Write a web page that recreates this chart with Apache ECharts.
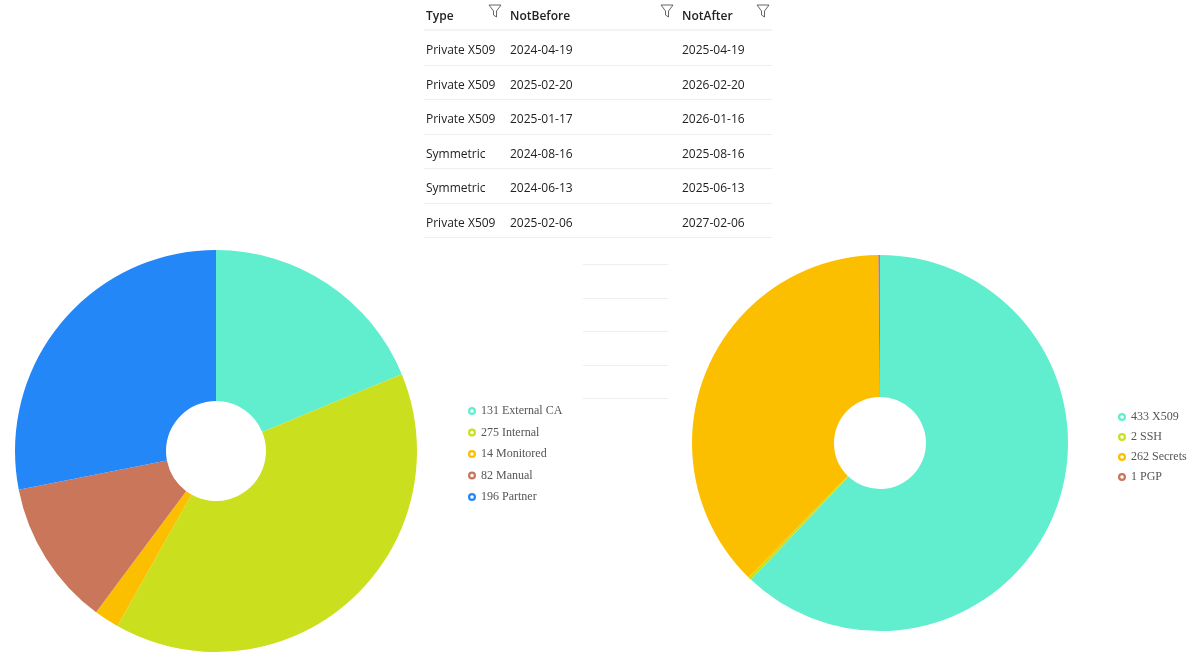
<!DOCTYPE html>
<html><head><meta charset="utf-8">
<script src="https://cdn.jsdelivr.net/npm/echarts@6/dist/echarts.min.js"></script>
<style>
body{margin:0;background:#fff;width:1195px;height:669px;overflow:hidden;position:relative;font-family:"Open Sans","Noto Sans",sans-serif;}
#chart{position:absolute;left:0;top:0;width:1195px;height:669px;}
#tbl{position:absolute;left:424px;top:0;width:348px;font-size:12px;color:#222;}
.row{position:relative;height:33.5px;border-bottom:1px solid #eee;}
.row span{position:absolute;top:10px;}
.hdr{height:29px;border-bottom:2px solid #f3f3f3;font-weight:600;}
.hdr span{top:7px;}
.f{position:absolute;top:4px;width:14px;height:14px;}
.ln{position:absolute;left:583px;width:85px;border-top:1px solid #eee;}
</style></head><body>
<div id="chart"></div>
<div id="tbl"></div>
<script>
const tableCols=["Type","NotBefore","NotAfter"];
const tableRows=[
["Private X509","2024-04-19","2025-04-19"],
["Private X509","2025-02-20","2026-02-20"],
["Private X509","2025-01-17","2026-01-16"],
["Symmetric","2024-08-16","2025-08-16"],
["Symmetric","2024-06-13","2025-06-13"],
["Private X509","2025-02-06","2027-02-06"]];
const sourceNames=["External CA","Internal","Monitored","Manual","Partner"];
const sourceValues=[131,275,14,82,196];
const typeNames=["X509","SSH","Secrets","PGP"];
const typeValues=[433,2,262,1];
const colors=["#60eecf","#cadf1e","#fcbf00","#c9765a","#2387f8"];

const colX=[2,86,258], funX=[64,236,332];
const funnel='<svg viewBox="0 0 14 14"><path d="M1 1 H13 L8.5 7 V13 L5.5 11 V7 Z" fill="none" stroke="#555" stroke-width="0.9"/></svg>';
let h='<div class="row hdr">';
tableCols.forEach((c,i)=>{h+=`<span style="left:${colX[i]}px">${c}</span><div class="f" style="left:${funX[i]}px">${funnel}</div>`;});
h+='</div>';
tableRows.forEach(r=>{h+='<div class="row">';r.forEach((c,i)=>h+=`<span style="left:${colX[i]}px">${c}</span>`);h+='</div>';});
document.getElementById('tbl').innerHTML=h;
[264,298,331,365,398].forEach(y=>{const d=document.createElement('div');d.className='ln';d.style.top=y+'px';document.body.appendChild(d);});

const ch=echarts.init(document.getElementById('chart'));
const ring='path://M50,0A50,50,0,1,1,49.9,0ZM50,28A22,22,0,1,0,50.1,28Z';
function leg(idx,names,left,top,gap){return {seriesIndex:idx,data:names,orient:'vertical',left:left,top:top,itemGap:gap,itemWidth:8,itemHeight:8,icon:ring,
 textStyle:{fontFamily:'Liberation Serif',fontSize:12,color:'#555'},
 formatter:n=>{const s=idx==0?[sourceNames,sourceValues]:[typeNames,typeValues];return s[1][s[0].indexOf(n)]+' '+n;}};}
ch.setOption({
 color:colors,
 legend:[leg(0,sourceNames,463,400,9.5),leg(1,typeNames,1113,406,8)],
 series:[
  {type:'pie',center:[216,451],radius:[50,201],startAngle:90,label:{show:false},labelLine:{show:false},
   data:sourceNames.map((n,i)=>({name:n,value:sourceValues[i]}))},
  {type:'pie',center:[880,443],radius:[46,188],startAngle:90,label:{show:false},labelLine:{show:false},
   data:typeNames.map((n,i)=>({name:n,value:typeValues[i]}))}
 ]});
</script></body></html>
